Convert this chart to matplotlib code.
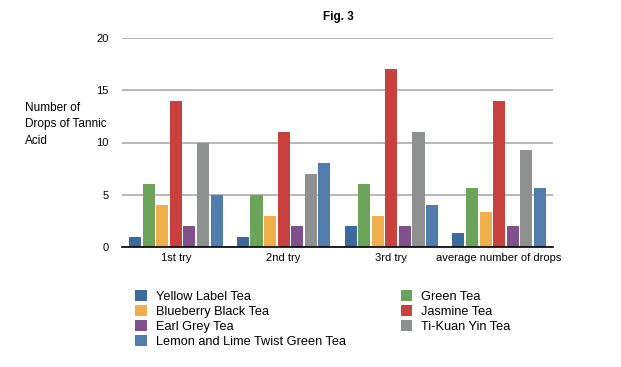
import matplotlib
matplotlib.use("Agg")
import matplotlib.pyplot as plt
import numpy as np

plt.rcParams['font.family'] = ['Liberation Sans', 'DejaVu Sans']

categories = ["1st try", "2nd try", "3rd try", "average number of drops"]
series_names = ["Yellow Label Tea", "Green Tea", "Blueberry Black Tea", "Jasmine Tea",
                "Earl Grey Tea", "Ti-Kuan Yin Tea", "Lemon and Lime Twist Green Tea"]
yellow_label = [1, 1, 2, 1.33]
green_tea = [6, 5, 6, 5.67]
blueberry_black = [4, 3, 3, 3.33]
jasmine = [14, 11, 17, 14]
earl_grey = [2, 2, 2, 2]
ti_kuan_yin = [10, 7, 11, 9.33]
lemon_lime = [5, 8, 4, 5.67]
series_values = [yellow_label, green_tea, blueberry_black, jasmine, earl_grey, ti_kuan_yin, lemon_lime]
colors = ["#3D6A9C", "#6BA35A", "#EEAF4C", "#C9413F", "#80508A", "#8F9190", "#507DAB"]
yticks = [0, 5, 10, 15, 20]
ylabel_lines = ["Number of", "Drops of Tannic", "Acid"]

fig = plt.figure(figsize=(6.21, 3.67), dpi=100)
W, H = 621, 367
ax = fig.add_axes([122 / W, 1 - 247 / H, (553 - 122) / W, (247 - 38) / H])

x = np.arange(len(categories))
n = len(series_values)
step = 0.126
bw = 0.112
handles = []
for i, (vals, c, name) in enumerate(zip(series_values, colors, series_names)):
    off = (i - (n - 1) / 2) * step
    b = ax.bar(x + off, vals, width=bw, color=c, label=name, zorder=3)
    handles.append(b)

ax.set_xlim(-0.5, len(categories) - 0.5)
ax.set_ylim(0, 20)
ax.set_yticks(yticks)
ax.set_yticklabels([str(t) for t in yticks], fontsize=8)
ax.set_xticks(x)
ax.set_xticklabels(categories, fontsize=8)
ax.tick_params(axis='y', length=0, pad=9.5)
ax.tick_params(axis='x', length=0, pad=4)
ax.yaxis.grid(True, color="#AAAAAA", linewidth=1.2, zorder=0)
for s in ["top", "right", "left"]:
    ax.spines[s].set_visible(False)
ax.spines["bottom"].set_color("black")
ax.spines["bottom"].set_linewidth(1.2)
ax.spines["bottom"].set_zorder(4)

fig.text(338 / W, 1 - 17 / H, "Fig. 3", ha="center", va="center", fontsize=8.5, fontweight="bold")
for k, line in enumerate(ylabel_lines):
    fig.text(25 / W, 1 - (108 + 16.5 * k) / H, line, ha="left", va="center", fontsize=8.5)

order = [0, 2, 4, 6, 1, 3, 5]
leg = fig.legend([handles[i] for i in order], [series_names[i] for i in order],
                 ncol=2, loc="upper left", bbox_to_anchor=(129 / W, 1 - 284 / H),
                 frameon=False, fontsize=9.2, handlelength=0.9, handleheight=0.9,
                 handletextpad=0.7, columnspacing=4.3, labelspacing=0.18, borderpad=0)

fig.savefig("out.png", dpi=100)
